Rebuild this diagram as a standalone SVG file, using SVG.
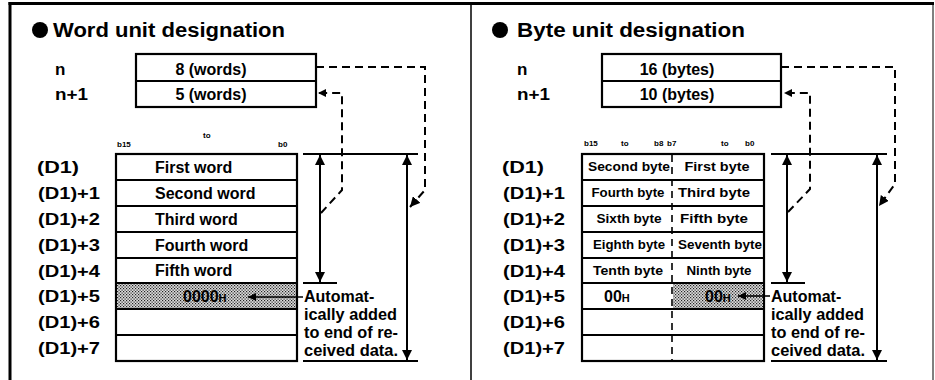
<svg xmlns="http://www.w3.org/2000/svg" width="935" height="380" viewBox="0 0 935 380">
<style>
text{font-family:"Liberation Sans",Arial,sans-serif;font-weight:bold;fill:#000}
.title{font-size:20px}
.lbl{font-size:17px}
.val{font-size:16px}
.byte{font-size:13px}
.bit{font-size:8px}
.sub{font-size:11px}
.box{fill:#fff;stroke:#000;stroke-width:2.2}
.ln{stroke:#000;stroke-width:2;fill:none}
.thin{stroke:#000;stroke-width:1.6;fill:none}
.dash{stroke:#000;stroke-width:2;fill:none;stroke-dasharray:8 5}
.mid{stroke:#000;stroke-width:1.6;fill:none;stroke-dasharray:7 5}
.shade{fill:url(#dots)}
</style>
<defs>
<pattern id="dots" width="3" height="3" patternUnits="userSpaceOnUse">
<rect width="3" height="3" fill="#dcdcdc"/>
<rect x="0" y="0" width="1.2" height="1.2" fill="#222"/>
<rect x="1.5" y="1.5" width="1.2" height="1.2" fill="#222"/>
</pattern>
<marker id="ah" viewBox="0 0 10 10" refX="10" refY="5" markerWidth="10" markerHeight="10" markerUnits="userSpaceOnUse" orient="auto-start-reverse">
<path d="M0,0 L10,5 L0,10 z" fill="#000"/>
</marker>
<marker id="ahs" viewBox="0 0 10 10" refX="10" refY="5" markerWidth="8" markerHeight="8" markerUnits="userSpaceOnUse" orient="auto-start-reverse">
<path d="M0,0 L10,5 L0,10 z" fill="#000"/>
</marker>
</defs>

<g id="frame">
<line x1="8.5" y1="3.5" x2="934" y2="3.5" stroke="#000" stroke-width="3"/>
<line x1="10" y1="2" x2="10" y2="380" stroke="#000" stroke-width="3"/>
<line x1="471" y1="3" x2="471" y2="380" stroke="#000" stroke-width="1.5"/>
<line x1="933" y1="3" x2="933" y2="380" stroke="#000" stroke-width="1"/>
</g>

<!-- ===== Word unit panel ===== -->
<g id="word-title">
<circle cx="40" cy="30" r="8" fill="#000"/>
<text class="title" x="53" y="37" textLength="232" lengthAdjust="spacingAndGlyphs">Word unit designation</text>
</g>

<g id="word-n">
<text class="lbl" x="55" y="75">n</text>
<text class="lbl" x="55" y="100" textLength="33" lengthAdjust="spacingAndGlyphs">n+1</text>
<rect class="box" x="136" y="54" width="180" height="53"/>
<line class="ln" x1="136" y1="81" x2="316" y2="81"/>
<text class="val" x="211" y="75" text-anchor="middle">8 (words)</text>
<text class="val" x="211" y="100" text-anchor="middle">5 (words)</text>
</g>

<g id="word-bits">
<text class="bit" x="117" y="147">b15</text>
<text class="bit" x="203" y="138">to</text>
<text class="bit" x="278" y="147">b0</text>
</g>

<g id="word-labels">
<text class="lbl" x="37" y="173" textLength="42" lengthAdjust="spacingAndGlyphs">(D1)</text>
<text class="lbl" x="38" y="199" textLength="62" lengthAdjust="spacingAndGlyphs">(D1)+1</text>
<text class="lbl" x="38" y="225" textLength="62" lengthAdjust="spacingAndGlyphs">(D1)+2</text>
<text class="lbl" x="38" y="251" textLength="62" lengthAdjust="spacingAndGlyphs">(D1)+3</text>
<text class="lbl" x="38" y="277" textLength="62" lengthAdjust="spacingAndGlyphs">(D1)+4</text>
<text class="lbl" x="38" y="302" textLength="62" lengthAdjust="spacingAndGlyphs">(D1)+5</text>
<text class="lbl" x="38" y="328" textLength="62" lengthAdjust="spacingAndGlyphs">(D1)+6</text>
<text class="lbl" x="38" y="354" textLength="62" lengthAdjust="spacingAndGlyphs">(D1)+7</text>
</g>

<g id="word-table">
<rect class="box" x="116" y="154" width="181" height="207"/>
<rect class="shade" x="117" y="283" width="179" height="26"/>
<path class="ln" d="M116,180 H297 M116,206 H297 M116,232 H297 M116,258 H297 M116,283 H297 M116,309 H297 M116,335 H297"/>
<text class="val" x="155" y="173">First word</text>
<text class="val" x="155" y="199">Second word</text>
<text class="val" x="155" y="225">Third word</text>
<text class="val" x="155" y="251">Fourth word</text>
<text class="val" x="155" y="276">Fifth word</text>
<text class="val" x="183" y="302">0000<tspan class="sub">H</tspan></text>
</g>

<g id="word-note">
<text class="val" x="304" y="302">Automat-</text>
<text class="val" x="304" y="320" textLength="93" lengthAdjust="spacingAndGlyphs">ically added</text>
<text class="val" x="304" y="338" textLength="94" lengthAdjust="spacingAndGlyphs">to end of re-</text>
<text class="val" x="304" y="356" textLength="94" lengthAdjust="spacingAndGlyphs">ceived data.</text>
</g>

<!-- ===== Byte unit panel ===== -->
<g id="byte-title">
<circle cx="500" cy="30" r="8" fill="#000"/>
<text class="title" x="517" y="37" textLength="228" lengthAdjust="spacingAndGlyphs">Byte unit designation</text>
</g>

<g id="byte-n">
<text class="lbl" x="517" y="75">n</text>
<text class="lbl" x="517" y="100" textLength="33" lengthAdjust="spacingAndGlyphs">n+1</text>
<rect class="box" x="602" y="54" width="179" height="53"/>
<line class="ln" x1="602" y1="81" x2="781" y2="81"/>
<text class="val" x="677" y="75" text-anchor="middle">16 (bytes)</text>
<text class="val" x="677" y="100" text-anchor="middle">10 (bytes)</text>
</g>

<g id="byte-bits">
<text class="bit" x="584" y="146">b15</text>
<text class="bit" x="621" y="146">to</text>
<text class="bit" x="654" y="146">b8</text>
<text class="bit" x="667" y="146">b7</text>
<text class="bit" x="721" y="146">to</text>
<text class="bit" x="745" y="146">b0</text>
</g>

<g id="byte-labels">
<text class="lbl" x="502" y="173" textLength="42" lengthAdjust="spacingAndGlyphs">(D1)</text>
<text class="lbl" x="503" y="199" textLength="62" lengthAdjust="spacingAndGlyphs">(D1)+1</text>
<text class="lbl" x="503" y="225" textLength="62" lengthAdjust="spacingAndGlyphs">(D1)+2</text>
<text class="lbl" x="503" y="251" textLength="62" lengthAdjust="spacingAndGlyphs">(D1)+3</text>
<text class="lbl" x="503" y="277" textLength="62" lengthAdjust="spacingAndGlyphs">(D1)+4</text>
<text class="lbl" x="503" y="302" textLength="62" lengthAdjust="spacingAndGlyphs">(D1)+5</text>
<text class="lbl" x="503" y="328" textLength="62" lengthAdjust="spacingAndGlyphs">(D1)+6</text>
<text class="lbl" x="503" y="354" textLength="62" lengthAdjust="spacingAndGlyphs">(D1)+7</text>
</g>

<g id="byte-table">
<rect class="box" x="582" y="154" width="182" height="207"/>
<rect class="shade" x="673" y="283" width="90" height="26"/>
<path class="ln" d="M582,180 H764 M582,206 H764 M582,232 H764 M582,258 H764 M582,283 H764 M582,309 H764 M582,335 H764"/>
<line class="mid" x1="672" y1="155" x2="672" y2="360"/>
<text class="byte" x="629" y="171" text-anchor="middle" textLength="82" lengthAdjust="spacingAndGlyphs">Second byte</text>
<text class="byte" x="717" y="171" text-anchor="middle" textLength="65" lengthAdjust="spacingAndGlyphs">First byte</text>
<text class="byte" x="628" y="197" text-anchor="middle" textLength="73" lengthAdjust="spacingAndGlyphs">Fourth byte</text>
<text class="byte" x="714" y="197" text-anchor="middle" textLength="72" lengthAdjust="spacingAndGlyphs">Third byte</text>
<text class="byte" x="629" y="223" text-anchor="middle" textLength="65" lengthAdjust="spacingAndGlyphs">Sixth byte</text>
<text class="byte" x="714" y="223" text-anchor="middle" textLength="68" lengthAdjust="spacingAndGlyphs">Fifth byte</text>
<text class="byte" x="629" y="249" text-anchor="middle" textLength="72" lengthAdjust="spacingAndGlyphs">Eighth byte</text>
<text class="byte" x="720" y="249" text-anchor="middle" textLength="84" lengthAdjust="spacingAndGlyphs">Seventh byte</text>
<text class="byte" x="628" y="275" text-anchor="middle" textLength="70" lengthAdjust="spacingAndGlyphs">Tenth byte</text>
<text class="byte" x="719" y="275" text-anchor="middle" textLength="65" lengthAdjust="spacingAndGlyphs">Ninth byte</text>
<text class="val" x="604" y="302">00<tspan class="sub">H</tspan></text>
<text class="val" x="705" y="302">00<tspan class="sub">H</tspan></text>
</g>

<g id="byte-note">
<text class="val" x="771" y="302">Automat-</text>
<text class="val" x="771" y="320" textLength="93" lengthAdjust="spacingAndGlyphs">ically added</text>
<text class="val" x="771" y="338" textLength="94" lengthAdjust="spacingAndGlyphs">to end of re-</text>
<text class="val" x="771" y="356" textLength="94" lengthAdjust="spacingAndGlyphs">ceived data.</text>
</g>

<g id="connectors">
<!-- word panel -->
<path class="dash" d="M316,67 H425 V190 L410,207" marker-end="url(#ah)"/>
<path class="dash" d="M321,213 L342,190 V93 H318" marker-end="url(#ahs)"/>
<line class="ln" x1="303" y1="154" x2="418" y2="154"/>
<line class="ln" x1="303" y1="283" x2="337" y2="283"/>
<line class="ln" x1="303" y1="361" x2="418" y2="361"/>
<line class="ln" x1="320" y1="155" x2="320" y2="282" marker-start="url(#ah)" marker-end="url(#ah)"/>
<line class="ln" x1="407" y1="155" x2="407" y2="360" marker-start="url(#ah)" marker-end="url(#ah)"/>
<line class="thin" x1="303" y1="297" x2="248" y2="297" marker-end="url(#ahs)"/>
<!-- byte panel -->
<path class="dash" d="M781,67 H895 V184 L879,206" marker-end="url(#ah)"/>
<path class="dash" d="M788,212 L810,189 V93 H784" marker-end="url(#ahs)"/>
<line class="ln" x1="771" y1="154" x2="887" y2="154"/>
<line class="ln" x1="771" y1="283" x2="805" y2="283"/>
<line class="ln" x1="771" y1="361" x2="887" y2="361"/>
<line class="ln" x1="787" y1="155" x2="787" y2="282" marker-start="url(#ah)" marker-end="url(#ah)"/>
<line class="ln" x1="877" y1="155" x2="877" y2="360" marker-start="url(#ah)" marker-end="url(#ah)"/>
<line class="thin" x1="770" y1="296" x2="738" y2="296" marker-end="url(#ahs)"/>
</g>
</svg>
